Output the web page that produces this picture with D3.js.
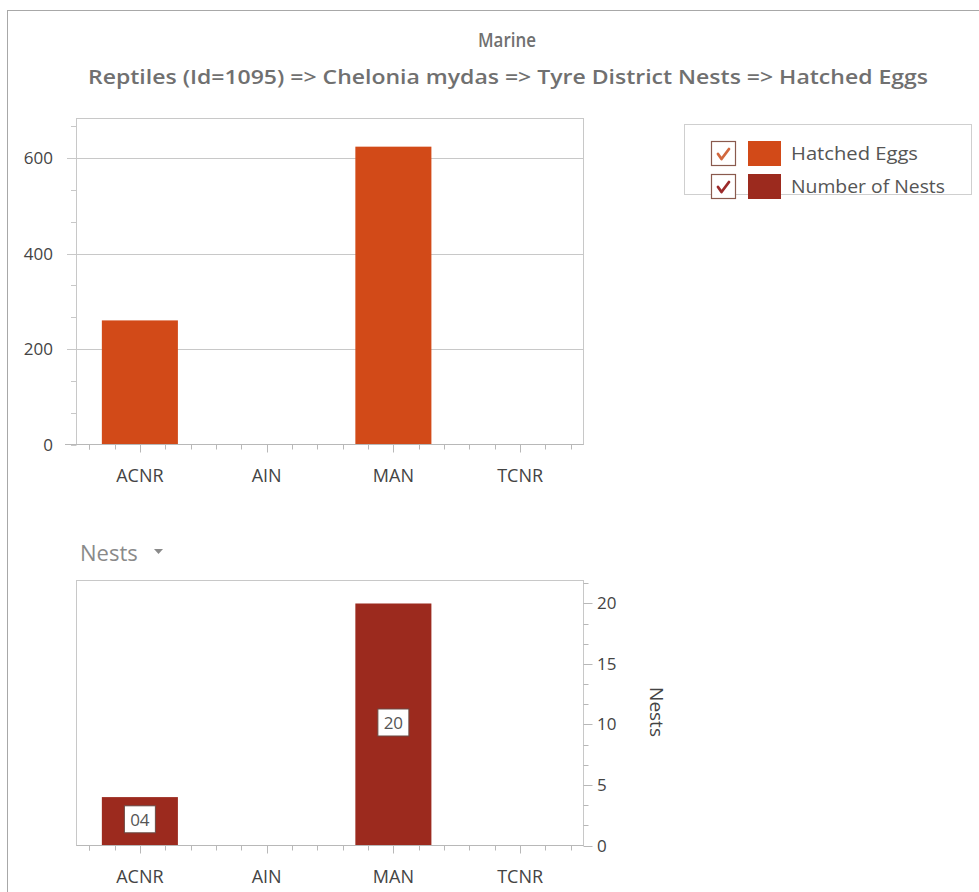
<!DOCTYPE html>
<html><head><meta charset="utf-8">
<script src="https://cdn.jsdelivr.net/npm/d3@7"></script>
<style>
html,body{margin:0;padding:0;background:#fff;}
svg{display:block;}
text{font-family:"Open Sans","DejaVu Sans",sans-serif;}
</style></head>
<body>
<script>
const categories = ["ACNR", "AIN", "MAN", "TCNR"];
const hatchedEggs = [260, 0, 624, 0];
const nests = [4, 0, 20, 0];
const nestLabels = ["04", null, "20", null];
const eggTicks = [0, 200, 400, 600];
const nestTicks = [0, 5, 10, 15, 20];
const seriesNames = ["Hatched Eggs", "Number of Nests"];
const titleText = "Marine";
const subtitleText = "Reptiles (Id=1095) => Chelonia mydas => Tyre District Nests => Hatched Eggs";

const W = 979, H = 892;
const C1 = "#D24A18", C2 = "#9C2A1E";
const svg = d3.select("body").append("svg").attr("width", W).attr("height", H);

// outer border
svg.append("rect").attr("x", 7.5).attr("y", 10.5).attr("width", W).attr("height", H)
  .attr("fill", "none").attr("stroke", "#a8a8a8");

svg.append("text").attr("x", 507).attr("y", 47).attr("text-anchor", "middle")
  .attr("font-size", 20).attr("fill", "#707070").attr("font-weight", 600)
  .attr("textLength", 58).attr("lengthAdjust", "spacingAndGlyphs").text(titleText);
svg.append("text").attr("x", 508).attr("y", 84).attr("text-anchor", "middle")
  .attr("font-size", 19).attr("fill", "#707070").attr("font-weight", 600)
  .attr("textLength", 840).attr("lengthAdjust", "spacingAndGlyphs").text(subtitleText);

// ---------- top chart ----------
const L = 76.5, R = 583.5;
const x = d3.scaleBand().domain(categories).range([L, R]).paddingInner(0.4).paddingOuter(0.2);
const xFull = d3.scaleBand().domain(categories).range([L, R]);
const y1 = d3.scaleLinear().domain([0, 683]).range([444.5, 118.5]);

const g1 = svg.append("g");
g1.append("rect").attr("x", L).attr("y", y1.range()[1]).attr("width", R - L)
  .attr("height", y1.range()[0] - y1.range()[1]).attr("fill", "none").attr("stroke", "#c8c8c8");
g1.selectAll(".grid").data(eggTicks.filter(d => d > 0)).join("line")
  .attr("x1", 67).attr("x2", R).attr("y1", d => Math.round(y1(d)) + 0.5).attr("y2", d => Math.round(y1(d)) + 0.5)
  .attr("stroke", "#c8c8c8");
const minor1 = d3.range(0, 683, 200 / 3);
g1.selectAll(".mt").data(minor1).join("line")
  .attr("x1", 71).attr("x2", L).attr("y1", d => Math.round(y1(d)) + 0.5).attr("y2", d => Math.round(y1(d)) + 0.5)
  .attr("stroke", "#c8c8c8");
g1.selectAll(".bar").data(categories).join("rect")
  .attr("x", d => x(d)).attr("width", x.bandwidth())
  .attr("y", (d, i) => y1(hatchedEggs[i])).attr("height", (d, i) => y1(0) - y1(hatchedEggs[i]))
  .attr("fill", C1);
g1.append("line").attr("x1", 65).attr("x2", R).attr("y1", y1(0)).attr("y2", y1(0)).attr("stroke", "#b8b8b8");
g1.selectAll(".yl").data(eggTicks).join("text")
  .attr("x", 53).attr("y", d => y1(d) + 6).attr("text-anchor", "end")
  .attr("font-size", 17).attr("fill", "#444").text(d => d);

function xTicks(g, yBase) {
  const bw = xFull.bandwidth();
  const minor = [];
  categories.forEach(c => { for (let k = -2; k <= 2; k++) minor.push({p: xFull(c) + bw / 2 + k * bw / 5, major: k === 0}); });
  minor.push({p: L + 0.1 * bw, major: false});
  g.selectAll(".xt").data(minor).join("line")
    .attr("x1", d => Math.round(d.p) + 0.5).attr("x2", d => Math.round(d.p) + 0.5)
    .attr("y1", yBase).attr("y2", d => yBase + (d.major ? 8 : 5)).attr("stroke", "#b8b8b8");
  g.selectAll(".xl").data(categories).join("text")
    .attr("x", d => xFull(d) + bw / 2).attr("y", yBase + 37).attr("text-anchor", "middle")
    .attr("font-size", 18).attr("fill", "#444").text(d => d);
}
xTicks(g1, 444.5);

// ---------- legend ----------
const lg = svg.append("g");
lg.append("rect").attr("x", 684.5).attr("y", 124.5).attr("width", 287).attr("height", 70)
  .attr("fill", "#fff").attr("stroke", "#cfcfcf");
const checkColors = ["#D2683E", "#9C2A2A"];
const legendLen = [127, 154];
seriesNames.forEach((s, i) => {
  const yy = 141 + i * 33;
  lg.append("rect").attr("x", 711.5).attr("y", yy + 0.5).attr("width", 24).attr("height", 24)
    .attr("fill", "#fff").attr("stroke", "#8a5a4e").attr("stroke-width", 1.2);
  lg.append("path").attr("d", `M${718},${yy + 13} L${721.5},${yy + 18} L${729},${yy + 8}`)
    .attr("fill", "none").attr("stroke", checkColors[i]).attr("stroke-width", 2.8)
    .attr("stroke-linecap", "round").attr("stroke-linejoin", "round");
  lg.append("rect").attr("x", 748).attr("y", yy).attr("width", 33).attr("height", 25)
    .attr("fill", i === 0 ? C1 : C2);
  lg.append("text").attr("x", 791).attr("y", yy + 19).attr("font-size", 18)
    .attr("fill", "#555").attr("textLength", legendLen[i]).attr("lengthAdjust", "spacingAndGlyphs").text(s);
});

// ---------- bottom chart ----------
const y2 = d3.scaleLinear().domain([0, 21.9]).range([845.5, 580.5]);
const g2 = svg.append("g");
g2.append("text").attr("x", 80).attr("y", 561).attr("font-size", 22).attr("fill", "#8a8a8a").text("Nests");
g2.append("path").attr("d", "M154,549 L163,549 L158.5,554 Z").attr("fill", "#8a8a8a");

g2.append("rect").attr("x", L).attr("y", y2.range()[1]).attr("width", R - L)
  .attr("height", y2.range()[0] - y2.range()[1]).attr("fill", "none").attr("stroke", "#c8c8c8");
const minor2 = d3.range(0, 21.9, 5 / 3);
g2.selectAll(".mt").data(minor2).join("line")
  .attr("x1", R).attr("x2", d => R + (Math.abs(d / 5 - Math.round(d / 5)) < 1e-6 ? 9 : 5))
  .attr("y1", d => Math.round(y2(d)) + 0.5).attr("y2", d => Math.round(y2(d)) + 0.5)
  .attr("stroke", "#b8b8b8");
g2.selectAll(".bar").data(categories).join("rect")
  .attr("x", d => x(d)).attr("width", x.bandwidth())
  .attr("y", (d, i) => y2(nests[i])).attr("height", (d, i) => y2(0) - y2(nests[i]))
  .attr("fill", C2);
g2.append("line").attr("x1", L).attr("x2", R).attr("y1", y2(0)).attr("y2", y2(0)).attr("stroke", "#b8b8b8");
g2.selectAll(".yl").data(nestTicks).join("text")
  .attr("x", 597).attr("y", d => y2(d) + 6).attr("text-anchor", "start")
  .attr("font-size", 17).attr("fill", "#444").text(d => d);
g2.append("text").attr("transform", "translate(650,712) rotate(90)").attr("text-anchor", "middle")
  .attr("font-size", 19).attr("fill", "#444").text("Nests");
xTicks(g2, 845.5);

categories.forEach((c, i) => {
  if (nestLabels[i] == null) return;
  const cx = x(c) + x.bandwidth() / 2;
  const cy = (y2(nests[i]) + y2(0)) / 2 - 2;
  g2.append("rect").attr("x", cx - 15.5).attr("y", cy - 13.5).attr("width", 31).attr("height", 27)
    .attr("fill", "#fff").attr("stroke", "#6a4a44");
  g2.append("text").attr("x", cx).attr("y", cy + 6.5).attr("text-anchor", "middle")
    .attr("font-size", 17).attr("fill", "#555").text(nestLabels[i]);
});
</script>
</body></html>
